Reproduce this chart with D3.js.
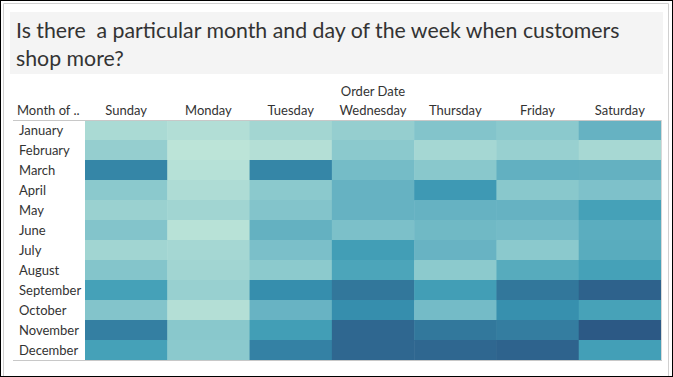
<!DOCTYPE html>
<html>
<head>
<meta charset="utf-8">
<script src="https://cdn.jsdelivr.net/npm/d3@7"></script>
<style>
  body { margin: 0; background: #fff; }
  svg text { font-family: "Lato", "Noto Sans", sans-serif; fill: #333; }
</style>
</head>
<body>
<svg id="chart" width="673" height="377"></svg>
<script>
// heatmap: orders by month and weekday
var months = ["January", "February", "March", "April", "May", "June",
              "July", "August", "September", "October", "November", "December"];
var days = ["Sunday", "Monday", "Tuesday", "Wednesday", "Thursday", "Friday", "Saturday"];

// one row per month, Sunday..Saturday
var january   = [64, 60, 68, 76, 87, 82, 104];
var february  = [76, 55, 59, 82, 67, 74, 66];
var march     = [146, 58, 146, 95, 83, 106, 105];
var april     = [82, 62, 82, 104, 129, 83, 90];
var may       = [73, 69, 87, 104, 104, 104, 122];
var june      = [87, 57, 105, 91, 98, 96, 110];
var july      = [69, 67, 92, 125, 103, 82, 111];
var august    = [86, 69, 81, 118, 81, 112, 122];
var september = [122, 74, 139, 160, 125, 160, 179];
var october   = [87, 59, 103, 139, 96, 137, 121];
var november  = [152, 83, 125, 174, 159, 154, 188];
var december  = [122, 82, 150, 174, 174, 178, 124];

var rows = [january, february, march, april, may, june,
            july, august, september, october, november, december];

var cells = [];
rows.forEach(function(r, i) {
    r.forEach(function(v, j) {
        cells.push({month: months[i], day: days[j], value: v});
    });
});

var blueTeal = ["#bce4d8", "#aedcd5", "#a1d5d2", "#95cecf", "#89c8cc", "#7ec1ca",
                "#72bac6", "#66b2c2", "#59acbe", "#4ba5ba", "#419eb6", "#3b96b2",
                "#358ead", "#3586a7", "#347ea1", "#32779b", "#316f96", "#2f6790",
                "#2d608a", "#2c5985"];

var margin = {top: 120, left: 85, right: 12, bottom: 17};
var width = 673, height = 377;

var svg = d3.select("#chart");

// frame
svg.append("rect")
    .attr("x", 0.5).attr("y", 0.5)
    .attr("width", width - 1).attr("height", height - 1)
    .attr("fill", "#fff").attr("stroke", "#000");
svg.append("path")
    .attr("d", "M3.5,376 V3.5 H668.5 V376")
    .attr("fill", "none").attr("stroke", "#d0d0d0");

// title block
svg.append("rect")
    .attr("x", 10).attr("y", 12)
    .attr("width", 653).attr("height", 62)
    .attr("fill", "#f4f4f4");
svg.append("text")
    .attr("x", 16).attr("y", 38)
    .style("font-size", "21.3px")
    .style("white-space", "pre")
    .text("Is there  a particular month and day of the week when customers");
svg.append("text")
    .attr("x", 16).attr("y", 66)
    .style("font-size", "21.3px")
    .text("shop more?");

var x = d3.scaleBand()
    .domain(days)
    .range([margin.left, width - margin.right]);

var y = d3.scaleBand()
    .domain(months)
    .range([margin.top, height - margin.bottom]);

var color = d3.scaleSequential(d3.interpolateRgbBasis(blueTeal))
    .domain([55, 188]);

svg.append("g")
    .selectAll("rect.cell")
    .data(cells)
    .enter()
    .append("rect")
    .attr("class", "cell")
    .attr("x", function(d) { return x(d.day); })
    .attr("y", function(d) { return y(d.month); })
    .attr("width", x.bandwidth() + 0.5)
    .attr("height", y.bandwidth() + 0.5)
    .attr("fill", function(d) { return color(d.value); });

// column headers
var xAxis = d3.axisTop(x).tickSize(0).tickPadding(5);
var gx = svg.append("g")
    .attr("transform", "translate(0," + margin.top + ")")
    .call(xAxis);
gx.select(".domain").remove();
gx.selectAll("text")
    .style("font-size", "13px")
    .style("font-family", "Lato, 'Noto Sans', sans-serif")
    .attr("fill", "#333");

svg.append("text")
    .attr("x", (margin.left + width - margin.right) / 2)
    .attr("y", 96)
    .attr("text-anchor", "middle")
    .style("font-size", "13px")
    .text("Order Date");

svg.append("text")
    .attr("x", 17)
    .attr("y", 115)
    .style("font-size", "13px")
    .text("Month of ..");

// row headers
var yAxis = d3.axisLeft(y).tickSize(0).tickPadding(0);
var gy = svg.append("g")
    .attr("transform", "translate(" + 19 + ",1)")
    .call(yAxis);
gy.select(".domain").remove();
gy.selectAll("text")
    .attr("text-anchor", "start")
    .style("font-size", "13px")
    .style("font-family", "Lato, 'Noto Sans', sans-serif")
    .attr("fill", "#333");

// rules
svg.append("line")
    .attr("x1", 13).attr("x2", width - margin.right + 1)
    .attr("y1", margin.top + 0.5).attr("y2", margin.top + 0.5)
    .attr("stroke", "#c8c8c8");
svg.append("line")
    .attr("x1", 13).attr("x2", width - margin.right + 1)
    .attr("y1", height - margin.bottom + 0.5).attr("y2", height - margin.bottom + 0.5)
    .attr("stroke", "#c8c8c8");
svg.append("line")
    .attr("x1", width - margin.right + 0.5).attr("x2", width - margin.right + 0.5)
    .attr("y1", margin.top).attr("y2", height - margin.bottom)
    .attr("stroke", "#d8d8d8");
</script>
</body>
</html>
